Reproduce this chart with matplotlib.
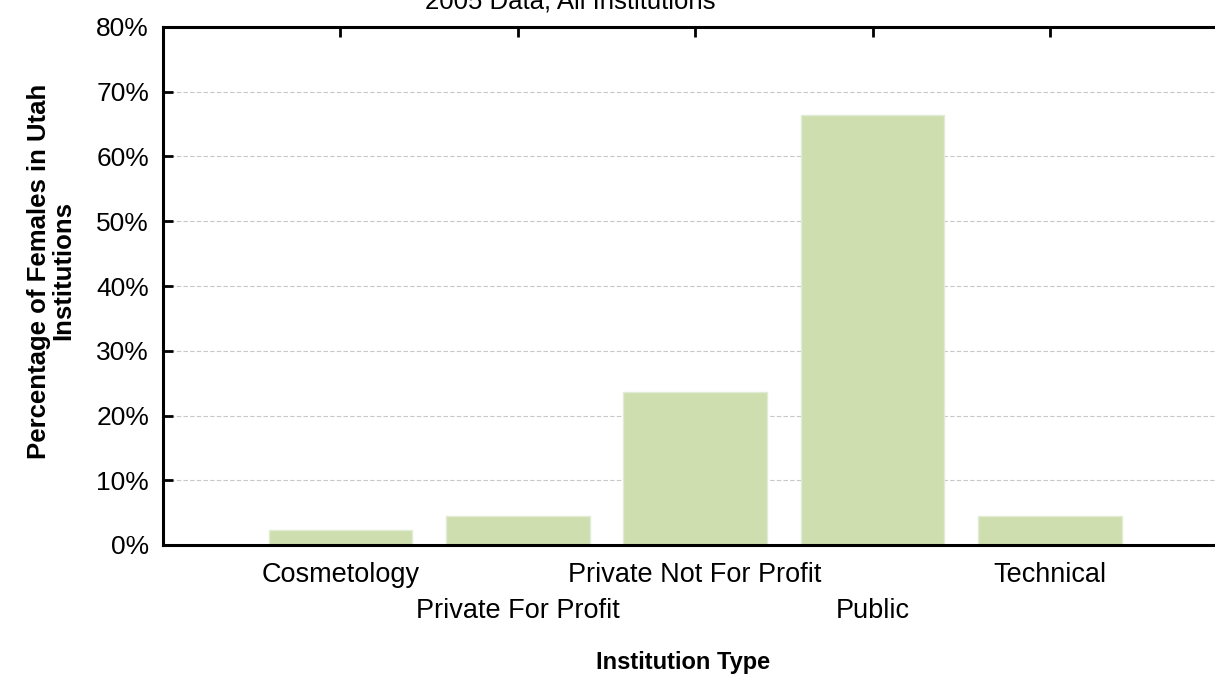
import matplotlib
matplotlib.use("Agg")
import matplotlib.pyplot as plt
from matplotlib.ticker import FuncFormatter, FixedLocator

categories = ["Cosmetology", "Private For Profit", "Private Not For Profit", "Public", "Technical"]
values = [2.3, 4.5, 23.6, 66.4, 4.5]
yticks = [0, 10, 20, 30, 40, 50, 60, 70, 80]
title = "2005 Data, All Institutions"
xlabel = "Institution Type"
ylabel = "Percentage of Females in Utah\nInstitutions"

plt.rcParams['font.family'] = ['Liberation Sans', 'DejaVu Sans']

W, H = 1215, 675
fig = plt.figure(figsize=(W / 100, H / 100), dpi=100)
left, right, top, bottom = 163, 1215, 27, 545
ax = fig.add_axes([left / W, 1 - bottom / H, (right - left) / W, (bottom - top) / H])

x = list(range(len(categories)))
ax.bar(x, values, width=0.81, color='#cfdeae', edgecolor='#e2ebd3', linewidth=1, zorder=2)

spacing = 177.25
ax.set_xlim(-1, (right - 341) / spacing)
ax.set_ylim(0, 80)
ax.set_yticks(yticks)
ax.yaxis.set_major_formatter(FuncFormatter(lambda v, p: f"{int(v)}%"))
ax.grid(axis='y', linestyle=(0, (4, 2)), color='#c8c8c8', linewidth=0.8, zorder=0)

even = [i for i in x if i % 2 == 0]
odd = [i for i in x if i % 2 == 1]
ax.xaxis.set_major_locator(FixedLocator(even))
ax.set_xticklabels([categories[i] for i in even])
ax.xaxis.set_minor_locator(FixedLocator(odd))
ax.set_xticklabels([categories[i] for i in odd], minor=True)

ax.tick_params(axis='x', which='major', direction='in', length=7, width=2, pad=12,
               labelsize=19.5, top=True)
ax.tick_params(axis='x', which='minor', direction='in', length=7, width=2, pad=38,
               labelsize=19.5, top=True)
ax.tick_params(axis='y', direction='in', length=7, width=2, pad=10, labelsize=19)

for s in ['left', 'top', 'bottom']:
    ax.spines[s].set_linewidth(2.2)
ax.spines['right'].set_visible(False)

ax.set_xlabel(xlabel, fontsize=17, fontweight='bold')
ax.xaxis.set_label_coords((683 - left) / (right - left), -(662 - bottom) / (bottom - top), transform=ax.transAxes)
ax.xaxis.label.set_va('center')
ax.set_ylabel(ylabel, fontsize=18.5, fontweight='bold', linespacing=1.0)
ax.yaxis.set_label_coords(-(163 - 51) / (right - left), (bottom - 271) / (bottom - top), transform=ax.transAxes)
ax.yaxis.label.set_va('center')

fig.text(570 / W, 1 - 9 / H, title, fontsize=18.5, ha='center', va='baseline')

fig.savefig("out.png", dpi=100)
